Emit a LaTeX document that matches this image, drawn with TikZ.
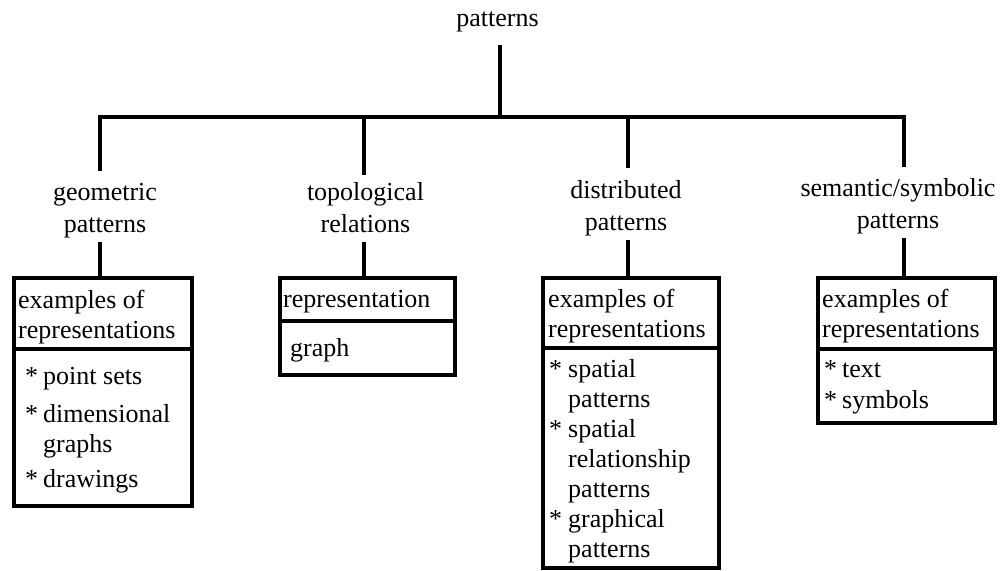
\documentclass[tikz,border=0pt]{standalone}
\usepackage{fontspec}
\setmainfont{Liberation Serif}
\begin{document}
\begin{tikzpicture}[x=1pt,y=-1pt,
  tree/.style={line width=4.5pt},
  boxpart/.style={draw, line width=4pt, inner sep=0pt},
  lbl/.style={inner sep=0pt, align=center, font=\fontsize{26}{32}\selectfont},
  txt/.style={anchor=north west, inner sep=0pt, align=left, font=\fontsize{26}{30}\selectfont}]
\useasboundingbox (0,0) rectangle (1000,570);
% root
\node[anchor=base, inner sep=12pt, font=\fontsize{26}{32}\selectfont] (root) at (497.5,27) {patterns};
\coordinate (j) at (500,117);
\coordinate (b1) at (100,117);
\coordinate (b2) at (364,117);
\coordinate (b3) at (628,117);
\coordinate (b4) at (904,117);
% labels
\node[lbl] (l1) at (105,209.6) {\strut geometric\\\strut patterns};
\node[lbl] (l2) at (365.5,209.6) {\strut topological\\\strut relations};
\node[lbl] (l3) at (626,208.1) {\strut distributed\\\strut patterns};
\node[lbl] (l4) at (898,206.1) {\strut semantic/symbolic\\\strut patterns};
% boxes
\node[boxpart, minimum width=178.5pt, minimum height=71pt] (h1) at (102.75,313.5) {};
\node[boxpart, minimum width=178.5pt, minimum height=157pt] (d1) at (102.75,427.5) {};
\node[boxpart, minimum width=175pt, minimum height=43pt] (h2) at (367.5,299.5) {};
\node[boxpart, minimum width=175pt, minimum height=54pt] (d2) at (367.5,348) {};
\node[boxpart, minimum width=176pt, minimum height=70pt] (h3) at (631,313) {};
\node[boxpart, minimum width=176pt, minimum height=220pt] (d3) at (631,458) {};
\node[boxpart, minimum width=177pt, minimum height=71pt] (h4) at (906.5,313.5) {};
\node[boxpart, minimum width=177pt, minimum height=74pt] (d4) at (906.5,386) {};
% box texts
\node[txt] (h1t) at (18,287) {\strut examples of\\\strut representations};
\node[txt] (i1a) at (25,363) {\strut\makebox[18pt][l]{*}point sets};
\node[txt] (i1b) at (25,401) {\strut\makebox[18pt][l]{*}dimensional\\\strut\hspace*{18pt}graphs};
\node[txt] (i1c) at (25,466) {\strut\makebox[18pt][l]{*}drawings};
\node[txt] (h2t) at (283,286) {\strut representation};
\node[txt] (i2a) at (290,335) {\strut graph};
\node[txt] (h3t) at (548,286) {\strut examples of\\\strut representations};
\node[txt] (i3a) at (549,356) {\strut\makebox[19pt][l]{*}spatial\\\strut\hspace*{19pt}patterns};
\node[txt] (i3b) at (549,416) {\strut\makebox[19pt][l]{*}spatial\\\strut\hspace*{19pt}relationship\\\strut\hspace*{19pt}patterns};
\node[txt] (i3c) at (549,506) {\strut\makebox[19pt][l]{*}graphical\\\strut\hspace*{19pt}patterns};
\node[txt] (h4t) at (822,286) {\strut examples of\\\strut representations};
\node[txt] (i4a) at (824,356) {\strut\makebox[18pt][l]{*}text};
\node[txt] (i4b) at (824,387) {\strut\makebox[18pt][l]{*}symbols};
% connectors
\draw[tree] (j |- root.south) -- (j);
\draw[tree, shorten <=6.6pt, shorten >=6.6pt] (b1 |- l1.north) -- (b1) -- (b4) -- (b4 |- l4.north);
\draw[tree, shorten >=2.6pt] (b2) -- (b2 |- l2.north);
\draw[tree, shorten >=7.6pt] (b3) -- (b3 |- l3.north);
\draw[tree] (b1 |- l1.south) -- (b1 |- h1.north);
\draw[tree] (b2 |- l2.south) -- (b2 |- h2.north);
\draw[tree] (b3 |- l3.south) -- (b3 |- h3.north);
\draw[tree] (b4 |- l4.south) -- (b4 |- h4.north);
\end{tikzpicture}
\end{document}
